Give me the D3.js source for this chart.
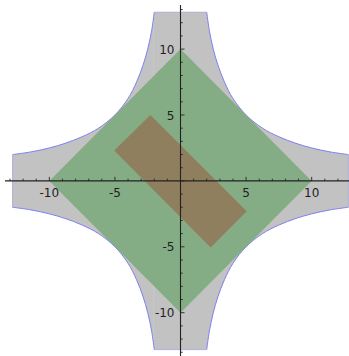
<!DOCTYPE html>
<html>
<head>
<meta charset="utf-8">
<script src="https://cdn.jsdelivr.net/npm/d3@7"></script>
<style>
  html, body { margin: 0; padding: 0; background: #fff; }
  svg { display: block; }
  text { font-family: "DejaVu Sans", sans-serif; font-size: 12px; fill: #1e1e1e; }
</style>
</head>
<body>
<svg id="chart" width="349" height="356"></svg>
<script>
// Plot window (data units)
const xDomain = [-12.8, 12.8];
const yDomain = [-12.8, 12.8];

// Boundary of the outer region in the first quadrant (x, y), from the top edge to the right edge
const outerCurve = [
  [2.0, 12.8], [2.2, 11.4], [2.5, 10.0], [2.85, 8.8], [3.35, 7.5],
  [4.0, 6.25], [5.0, 5.0], [6.25, 4.0], [7.5, 3.35], [8.8, 2.85],
  [10.0, 2.5], [11.4, 2.2], [12.8, 2.0]
];
// Quadrant signs (x, y), walked counter-clockwise
const quadrants = [[1, 1], [-1, 1], [-1, -1], [1, -1]];

// Diamond |x| + |y| <= 10
const diamond = [[10, 0], [0, 10], [-10, 0], [0, -10]];

// Tilted rectangle
const rectangle = [[-2.3, 5.0], [5.05, -2.3], [2.3, -5.05], [-5.05, 2.3]];

// Ticks
const minorTicksX = d3.range(-13, 13);
const minorTicksY = d3.range(-13, 14);
const labelTicksX = [-10, -5, 5, 10];
const labelTicksY = [-10, -5, 5, 10];

const svg = d3.select("#chart");
const x = d3.scaleLinear().domain(xDomain).range([12.6, 348.4]);
const y = d3.scaleLinear().domain(yDomain).range([349.6, 12.2]);

const poly = d3.line().x(d => x(d[0])).y(d => y(d[1]));
const smooth = d3.line().x(d => x(d[0])).y(d => y(d[1])).curve(d3.curveCatmullRom.alpha(0.5));

// One curved edge per quadrant, ordered so the loop runs counter-clockwise
const edges = quadrants.map(([sx, sy]) => {
  const pts = outerCurve.map(([a, b]) => [sx * a, sy * b]);
  return sx * sy > 0 ? pts.slice().reverse() : pts;
});

// Closed outline: curved edges joined by the straight cuts at the window border
const outerPath = edges.map((pts, i) => {
  const s = smooth(pts);
  return i === 0 ? s : s.replace(/^M/, "L");
}).join("") + "Z";

svg.append("clipPath").attr("id", "outerClip")
  .append("path").attr("d", outerPath);

svg.append("path")
  .attr("d", outerPath)
  .attr("fill", "#c2c2c2")
  .attr("stroke", "none");

// faint seam running through the region
svg.append("line")
  .attr("x1", x(-2.05)).attr("x2", x(-2.05))
  .attr("y1", y(12.8)).attr("y2", y(-12.8))
  .attr("stroke", "#ffffff").attr("stroke-opacity", 0.12).attr("stroke-width", 1);

// Blue outline along the curved edges
edges.forEach(pts => {
  svg.append("path")
    .attr("d", smooth(pts))
    .attr("fill", "none")
    .attr("stroke", "#7f7ff2")
    .attr("stroke-width", 1);
});
// straight cuts at the window border
edges.forEach((pts, i) => {
  const next = edges[(i + 1) % edges.length];
  svg.append("path").attr("d", poly([pts[pts.length - 1], next[0]]))
    .attr("fill", "none").attr("stroke", "#9a9ad8")
    .attr("stroke-width", 1).attr("stroke-opacity", 0.7);
});

// Diamond
svg.append("path")
  .attr("d", poly(diamond) + "Z")
  .attr("clip-path", "url(#outerClip)")
  .attr("fill", "#85ad85");

// Rectangle
svg.append("path")
  .attr("d", poly(rectangle) + "Z")
  .attr("fill", "#8f7f5e");

// Axes
const axisColor = "#222";
svg.append("line")
  .attr("x1", 5).attr("x2", 349)
  .attr("y1", y(0)).attr("y2", y(0))
  .attr("stroke", axisColor).attr("stroke-width", 1.1);
svg.append("line")
  .attr("x1", x(0)).attr("x2", x(0))
  .attr("y1", 5).attr("y2", 356)
  .attr("stroke", axisColor).attr("stroke-width", 1.1);

svg.selectAll(".tx").data(minorTicksX).enter().append("line")
  .attr("x1", d => x(d)).attr("x2", d => x(d))
  .attr("y1", y(0)).attr("y2", d => y(0) - (d % 5 === 0 ? 4 : 2.2))
  .attr("stroke", axisColor).attr("stroke-width", 0.9);
svg.selectAll(".ty").data(minorTicksY).enter().append("line")
  .attr("y1", d => y(d)).attr("y2", d => y(d))
  .attr("x1", x(0)).attr("x2", d => x(0) + (d % 5 === 0 ? 4 : 2.2))
  .attr("stroke", axisColor).attr("stroke-width", 0.9);

svg.selectAll(".lx").data(labelTicksX).enter().append("text")
  .attr("x", d => x(d))
  .attr("y", y(0) + 16)
  .attr("text-anchor", "middle")
  .text(d => String(d));
svg.selectAll(".ly").data(labelTicksY).enter().append("text")
  .attr("x", x(0) - 6)
  .attr("y", d => y(d) + 4.5)
  .attr("text-anchor", "end")
  .text(d => String(d));
</script>
</body>
</html>
